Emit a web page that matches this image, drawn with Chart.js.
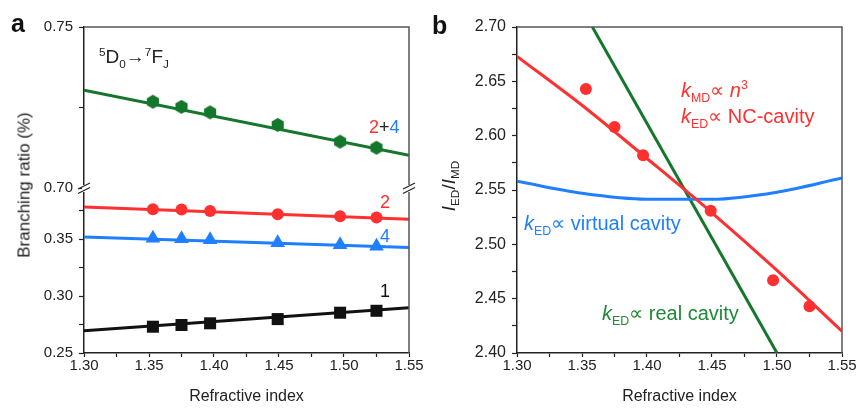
<!DOCTYPE html>
<html>
<head>
<meta charset="utf-8">
<script src="https://cdn.jsdelivr.net/npm/chart.js@4.4.0/dist/chart.umd.min.js"></script>
<style>
  body { margin:0; background:#fff; width:858px; height:409px; position:relative; overflow:hidden;
         font-family:"Liberation Sans", Arial, sans-serif; }
  .pane { position:absolute; top:0; height:409px; }
  #pa { left:0; width:430px; }
  #pb { left:430px; width:428px; }
  .lab { position:absolute; white-space:nowrap; line-height:1; }
  .lab sub, .lab sup { font-size:62%; line-height:0; }
  .rot { transform:translate(-50%,-50%) rotate(-90deg); transform-origin:center; }
  i { font-style:italic; }
</style>
</head>
<body>
<div class="pane" id="pa"><canvas id="ca" width="430" height="409"></canvas></div>
<div class="pane" id="pb"><canvas id="cb" width="428" height="409"></canvas></div>

<!-- panel labels / annotations -->
<div class="lab" style="left:11px;top:11px;font-size:25px;font-weight:bold;color:#111">a</div>
<div class="lab" style="left:432px;top:13px;font-size:25px;font-weight:bold;color:#111">b</div>
<div class="lab" style="left:99px;top:47px;font-size:19px;color:#222"><sup>5</sup>D<sub>0</sub>→<sup>7</sup>F<sub>J</sub></div>
<div class="lab" style="left:369px;top:118px;font-size:18px;color:#222"><span style="color:#ff3030">2</span>+<span style="color:#1f7fff">4</span></div>
<div class="lab" style="left:380px;top:193px;font-size:18px;color:#ff3030">2</div>
<div class="lab" style="left:380px;top:227px;font-size:18px;color:#1f7fff">4</div>
<div class="lab" style="left:380px;top:282px;font-size:18px;color:#111">1</div>
<div class="lab rot" style="left:24px;top:185px;font-size:17px;color:#222">Branching ratio (%)</div>

<div class="lab rot" style="left:448px;top:186px;font-size:19px;color:#222"><i>I</i><sub>ED</sub>/<i>I</i><sub>MD</sub></div>
<div class="lab" style="left:681px;top:80px;font-size:20px;color:#ff3030"><i>k</i><sub>MD</sub>∝ <i>n</i><sup>3</sup></div>
<div class="lab" style="left:681px;top:106px;font-size:20px;color:#ff3030"><i>k</i><sub>ED</sub>∝ NC-cavity</div>
<div class="lab" style="left:524px;top:213px;font-size:20px;color:#1f7fff"><i>k</i><sub>ED</sub>∝ virtual cavity</div>
<div class="lab" style="left:602px;top:303px;font-size:20px;color:#1e8a38"><i>k</i><sub>ED</sub>∝ real cavity</div>

<script>
// ---------- data ----------
const nIdx  = [1.353, 1.375, 1.397, 1.449, 1.497, 1.525];   // refractive index of the samples

// panel a: branching ratios
const br24 = [0.7268, 0.7252, 0.7235, 0.7196, 0.7144, 0.7125];
const br2  = [0.3763, 0.3761, 0.3748, 0.3719, 0.3702, 0.3690];
const br4  = [0.3509, 0.3504, 0.3496, 0.3469, 0.3452, 0.3439];
const br1  = [0.2731, 0.2746, 0.2761, 0.2798, 0.2854, 0.2871];
// fitted lines, panel a
const fitX  = [1.30, 1.55];
const fit24 = [0.7304, 0.7102];
const fit2  = [0.3783, 0.3675];
const fit4  = [0.3520, 0.3427];
const fit1  = [0.2696, 0.2897];

// panel b: I_ED / I_MD
const ratio      = [2.643, 2.608, 2.582, 2.531, 2.467, 2.443];
const curveX     = [1.30, 1.35, 1.40, 1.45, 1.50, 1.55];
const ncCavity   = [2.673, 2.628, 2.579, 2.529, 2.476, 2.420];
const virtCavity = [2.558, 2.547, 2.5415, 2.5415, 2.548, 2.561];
const realX      = [1.358, 1.50];
const realCavity = [2.70, 2.40];

const xTicks = { min: 1.30, max: 1.55, step: 0.025 };

// ---------- colours ----------
const RED = '#ff3030', BLUE = '#1f7fff', GREEN = '#15772b', BLACK = '#111';
const FONT = "'Liberation Sans', Arial, sans-serif";

// helpers
const pts = (xs, ys) => xs.map((x, i) => ({ x, y: ys[i] }));
const lab05 = v => Math.abs(v * 20 - Math.round(v * 20)) < 1e-6 ? v.toFixed(2) : '';

// hexagon marker for the 2+4 series
function hexMarker(r, color) {
  const c = document.createElement('canvas');
  c.width = c.height = 2 * r + 2;
  const g = c.getContext('2d');
  g.fillStyle = color;
  g.beginPath();
  for (let k = 0; k < 6; k++) {
    const a = Math.PI / 2 + k * Math.PI / 3;
    g.lineTo(r + 1 + r * Math.cos(a), r + 1 + r * Math.sin(a));
  }
  g.closePath(); g.fill();
  return c;
}

function markerSet(data, color, style, radius, yAxisID) {
  return { type: 'scatter', data, yAxisID, pointStyle: style, pointRadius: radius, pointHoverRadius: radius,
           backgroundColor: color, borderColor: color, borderWidth: 0, showLine: false };
}
function lineSet(data, color, yAxisID, tension) {
  return { type: 'line', data, yAxisID, borderColor: color, borderWidth: 3, pointRadius: 0,
           fill: false, tension: tension || 0, cubicInterpolationMode: tension ? 'monotone' : 'default' };
}

function xScale() {
  return {
    type: 'linear', min: xTicks.min, max: xTicks.max,
    afterFit: s => { s.height = 56; },
    ticks: { stepSize: xTicks.step, autoSkip: false, maxRotation: 0, callback: lab05,
             color: '#222', font: { family: FONT, size: 15 }, padding: 0 },
    grid: { drawOnChartArea: false, tickLength: 4, tickColor: '#222', tickWidth: 1.2 },
    border: { color: '#222', width: 1.5 },
    title: { display: true, text: 'Refractive index', color: '#222',
             font: { family: FONT, size: 16 }, padding: { top: 0, bottom: 3 } }
  };
}
function yScale(min, max, extra) {
  return Object.assign({
    type: 'linear', position: 'left', min, max,
    afterFit: s => { s.width = extra.w; },
    ticks: { stepSize: 0.025, autoSkip: false, includeBounds: false, callback: lab05,
             color: '#222', font: { family: FONT, size: extra.fs || 15 }, padding: 6 },
    grid: { drawOnChartArea: false, tickLength: 5, tickColor: '#222', tickWidth: 1.2 },
    border: { color: '#222', width: 1.5 }
  }, extra.opts || {});
}

// frame (top + right) and axis-break marks
function framePlugin(breakVal) {
  return {
    id: 'frame',
    afterDraw(chart) {
      const { ctx, chartArea: a, scales } = chart;
      ctx.save();
      ctx.strokeStyle = '#555'; ctx.lineWidth = 1.5;
      ctx.beginPath();
      ctx.moveTo(a.left, a.top); ctx.lineTo(a.right, a.top); ctx.lineTo(a.right, a.bottom);
      ctx.stroke();
      if (breakVal !== undefined) {
        const y = scales.yTop.getPixelForValue(breakVal);
        [a.left, a.right].forEach(x => {
          ctx.fillStyle = '#fff';
          ctx.fillRect(x - 2, y - 3, 4, 7);
          ctx.strokeStyle = '#222'; ctx.lineWidth = 1.2;
          [-2, 2.5].forEach(d => {
            ctx.beginPath(); ctx.moveTo(x - 6, y + d + 3); ctx.lineTo(x + 6, y + d - 3); ctx.stroke();
          });
        });
      }
      ctx.restore();
    }
  };
}

const common = {
  responsive: false, animation: false, events: [],
  plugins: { legend: { display: false }, tooltip: { enabled: false } }
};

// ---------- panel a ----------
new Chart(document.getElementById('ca'), {
  data: {
    datasets: [
      markerSet(pts(nIdx, br24), GREEN, hexMarker(7, GREEN), 7, 'yTop'),
      markerSet(pts(nIdx, br2), RED, 'circle', 6, 'yBot'),
      markerSet(pts(nIdx, br4), BLUE, 'triangle', 8.5, 'yBot'),
      markerSet(pts(nIdx, br1), BLACK, 'rect', 8.5, 'yBot'),
      lineSet(pts(fitX, fit24), GREEN, 'yTop'),
      lineSet(pts(fitX, fit2), RED, 'yBot'),
      lineSet(pts(fitX, fit4), BLUE, 'yBot'),
      lineSet(pts(fitX, fit1), BLACK, 'yBot')
    ]
  },
  options: Object.assign({}, common, {
    layout: { padding: { left: 0, top: 27, right: 21, bottom: 0 } },
    scales: {
      x: xScale(),
      yBot: yScale(0.25, 0.395, { w: 84, opts: { stack: 'ya', stackWeight: 165 } }),
      yTop: yScale(0.70, 0.75, { w: 84, opts: { stack: 'ya', stackWeight: 161 } })
    }
  }),
  plugins: [framePlugin(0.70)]
});

// ---------- panel b ----------
new Chart(document.getElementById('cb'), {
  data: {
    datasets: [
      markerSet(pts(nIdx, ratio), RED, 'circle', 6, 'y'),
      lineSet(pts(curveX, ncCavity), RED, 'y', 0.4),
      lineSet(pts(curveX, virtCavity), BLUE, 'y', 0.4),
      lineSet(pts(realX, realCavity), GREEN, 'y')
    ]
  },
  options: Object.assign({}, common, {
    layout: { padding: { left: 0, top: 27, right: 16, bottom: 0 } },
    scales: {
      x: xScale(),
      y: yScale(2.40, 2.70, { w: 87, fs: 16 })
    }
  }),
  plugins: [framePlugin()]
});
</script>
</body>
</html>
